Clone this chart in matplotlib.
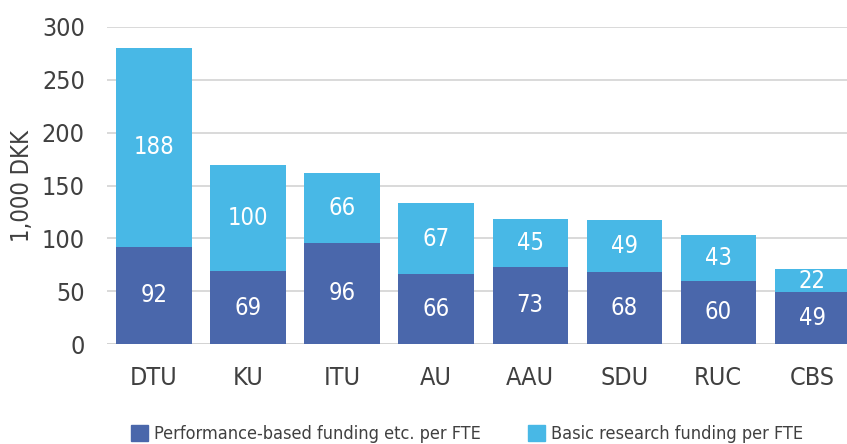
import matplotlib.pyplot as plt
from matplotlib.patches import Patch

plt.rcParams['font.family'] = ['Liberation Sans Narrow', 'DejaVu Sans']
plt.rcParams['font.stretch'] = 'condensed'

universities = ['DTU', 'KU', 'ITU', 'AU', 'AAU', 'SDU', 'RUC', 'CBS']
performance = [92, 69, 96, 66, 73, 68, 60, 49]
basic = [188, 100, 66, 67, 45, 49, 43, 22]
yticks = [0, 50, 100, 150, 200, 250, 300]

dark = '#4a67ab'
light = '#48b8e6'
grey = '#404040'

fig = plt.figure(figsize=(8.47, 4.44), dpi=100)
ax = fig.add_axes([0.1263, 0.2252, 0.8737, 0.714])

x = range(len(universities))
b1 = ax.bar(x, performance, width=0.8, color=dark, zorder=2)
b2 = ax.bar(x, basic, width=0.8, bottom=performance, color=light, zorder=2)

# white value labels in the middle of each segment
for i in x:
    ax.text(i, performance[i] / 2, str(performance[i]), ha='center', va='center',
            color='white', fontsize=17)
    ax.text(i, performance[i] + basic[i] / 2, str(basic[i]), ha='center', va='center',
            color='white', fontsize=17)

ax.set_xlim(-0.5, 7.37)
ax.set_ylim(0, 300)
ax.set_yticks(yticks)
ax.set_xticks(list(x))
ax.set_xticklabels(universities)
ax.yaxis.grid(True, color='#d3d3d3', linewidth=1.2, zorder=0)
ax.axhline(0, color='#d3d3d3', linewidth=2, zorder=1)
for s in ax.spines.values():
    s.set_visible(False)
ax.tick_params(axis='y', length=0, labelsize=18, colors=grey, pad=16)
ax.tick_params(axis='x', length=0, labelsize=18, colors=grey, pad=16)
ax.set_ylabel('1,000 DKK', fontsize=17, color=grey)
ax.yaxis.set_label_coords(-0.098, 0.5)

handles = [Patch(color=dark), Patch(color=light)]
fig.legend(handles, ['Performance-based funding etc. per FTE', 'Basic research funding per FTE'],
           loc='lower left', bbox_to_anchor=(0.135, -0.035), ncol=2, frameon=False,
           fontsize=13, labelcolor=grey, handlelength=0.95, handleheight=0.95,
           handletextpad=0.35, columnspacing=2.6)

fig.savefig('out.png', dpi=100)
